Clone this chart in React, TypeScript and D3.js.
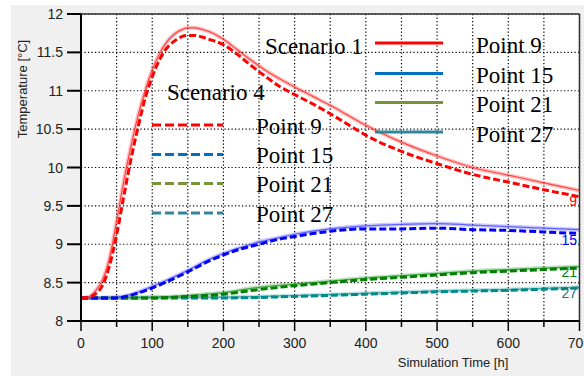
import React from "react";
import * as d3 from "d3";

const xTicks = [0, 100, 200, 300, 400, 500, 600, 700];
const yTicks = [8, 8.5, 9, 9.5, 10, 10.5, 11, 11.5, 12];

const p9T = [0, 10, 20, 30, 40, 50, 60, 70, 80, 90, 100, 110, 120, 130, 140, 150, 160, 170, 180, 200, 220, 240, 260, 280, 300, 325, 350, 375, 400, 450, 500, 550, 600, 650, 700];
const p9S1V = [8.3, 8.31, 8.39, 8.53, 8.82, 9.3, 9.82, 10.27, 10.67, 11.0, 11.27, 11.48, 11.63, 11.73, 11.79, 11.82, 11.82, 11.8, 11.77, 11.67, 11.53, 11.39, 11.26, 11.15, 11.05, 10.93, 10.81, 10.68, 10.55, 10.33, 10.15, 10.0, 9.9, 9.8, 9.7];
const p9S4V = [8.3, 8.31, 8.35, 8.46, 8.72, 9.12, 9.62, 10.1, 10.52, 10.9, 11.18, 11.4, 11.55, 11.64, 11.7, 11.72, 11.72, 11.7, 11.67, 11.6, 11.47, 11.32, 11.18, 11.05, 10.95, 10.83, 10.7, 10.56, 10.42, 10.21, 10.05, 9.91, 9.81, 9.71, 9.62];

const p15T = [0, 25, 50, 75, 100, 125, 150, 175, 200, 225, 250, 275, 300, 350, 400, 450, 500, 550, 600, 650, 700];
const p15S1V = [8.3, 8.3, 8.31, 8.36, 8.45, 8.55, 8.66, 8.78, 8.88, 8.96, 9.03, 9.08, 9.13, 9.2, 9.24, 9.26, 9.27, 9.25, 9.23, 9.21, 9.19];
const p15S4V = [8.3, 8.3, 8.3, 8.35, 8.43, 8.53, 8.64, 8.76, 8.86, 8.94, 9.0, 9.06, 9.1, 9.17, 9.2, 9.2, 9.21, 9.19, 9.18, 9.16, 9.14];

const p21T = [0, 100, 150, 200, 250, 300, 350, 400, 450, 500, 550, 600, 650, 700];
const p21S1V = [8.3, 8.31, 8.33, 8.37, 8.44, 8.48, 8.52, 8.56, 8.59, 8.62, 8.65, 8.67, 8.69, 8.71];
const p21S4V = [8.3, 8.3, 8.32, 8.35, 8.41, 8.46, 8.5, 8.54, 8.57, 8.6, 8.63, 8.65, 8.67, 8.69];

const p27T = [0, 200, 300, 400, 500, 600, 700];
const p27S1V = [8.3, 8.31, 8.33, 8.36, 8.39, 8.41, 8.44];
const p27S4V = [8.3, 8.3, 8.32, 8.35, 8.38, 8.4, 8.43];

const legendNames = ["Point 9", "Point 15", "Point 21", "Point 27"];
const legendColors = ["#ff0000", "#0070c0", "#77933c", "#31859c"];
const endLabels = ["9", "15", "21", "27"];

export default function App() {
  const W = 584, H = 376;
  const x = d3.scaleLinear().domain([0, 700]).range([81, 579.5]);
  const y = d3.scaleLinear().domain([8, 12]).range([321, 14]);
  const line = (t: number[], v: number[]) =>
    d3.line<number>().x((_, i) => x(t[i])).y((d) => y(d)).curve(d3.curveMonotoneX)(v) || "";

  const series = [
    { t: p27T, s1: p27S1V, s4: p27S4V, c1: "#20a0a0", c4: "#008b8b" },
    { t: p21T, s1: p21S1V, s4: p21S4V, c1: "#30a030", c4: "#008000" },
    { t: p15T, s1: p15S1V, s4: p15S4V, c1: "#5050ff", c4: "#0000ff" },
    { t: p9T, s1: p9S1V, s4: p9S4V, c1: "#ff3030", c4: "#ff0000" },
  ];
  const endColors = ["#ff0000", "#0000ff", "#008000", "#008080"];
  const endVals = [p9S4V[p9S4V.length - 1], p15S4V[p15S4V.length - 1], p21S4V[p21S4V.length - 1], p27S4V[p27S4V.length - 1]];
  const endOffsets = [9, 11, 9, 10];

  const gridX = d3.range(0, 701, 50);
  const font = "'Liberation Sans', Arial, sans-serif";
  const serif = "'Liberation Serif', 'Times New Roman', serif";

  return (
    <svg width={W} height={H} style={{ position: "absolute", left: 0, top: 0 }}>
      <rect x={0} y={0} width={W} height={H} fill="#ffffff" />
      <rect x={11} y={5} width={W - 11} height={H - 5} fill="#f0f0f0" />
      <rect x={x(0)} y={y(12)} width={x(700) - x(0)} height={y(8) - y(12)} fill="#ffffff" />
      {gridX.map((g) => (
        <line key={"gx" + g} x1={x(g)} x2={x(g)} y1={y(12)} y2={y(8)} stroke="#000" strokeWidth={1.2} strokeDasharray="1.2,2.3" />
      ))}
      {yTicks.map((g) => (
        <line key={"gy" + g} x1={x(0)} x2={x(700)} y1={y(g)} y2={y(g)} stroke="#000" strokeWidth={1.2} strokeDasharray="1.2,2.3" />
      ))}
      {series.map((s, i) => (
        <g key={"s" + i}>
          <path d={line(s.t, s.s1)} fill="none" stroke={s.c1} strokeOpacity={0.3} strokeWidth={4} />
          <path d={line(s.t, s.s1)} fill="none" stroke={s.c1} strokeOpacity={0.85} strokeWidth={1.2} />
          <path d={line(s.t, s.s4)} fill="none" stroke={s.c4} strokeWidth={3} strokeDasharray="7,3" />
        </g>
      ))}
      {endLabels.map((l, i) => (
        <text key={"el" + i} x={577} y={y(endVals[i]) + endOffsets[i]} textAnchor="end" fontFamily={font} fontSize={14} fill={endColors[i]}>
          {l}
        </text>
      ))}
      <line x1={x(0)} x2={x(700)} y1={y(12)} y2={y(12)} stroke="#333" strokeWidth={1.5} />
      <line x1={x(700)} x2={x(700)} y1={y(12)} y2={y(8)} stroke="#333" strokeWidth={1.5} />
      <line x1={x(0)} x2={x(0)} y1={y(12)} y2={y(8)} stroke="#000" strokeWidth={2} />
      <line x1={x(0)} x2={x(700)} y1={y(8)} y2={y(8)} stroke="#000" strokeWidth={2} />
      {yTicks.map((g) => (
        <g key={"yt" + g}>
          <line x1={67} x2={x(0)} y1={y(g)} y2={y(g)} stroke="#000" strokeWidth={2} />
          <text x={63} y={y(g) + 5} textAnchor="end" fontFamily={font} fontSize={14} fill="#222">
            {g}
          </text>
        </g>
      ))}
      {gridX.map((g) => (
        <line key={"xt" + g} x1={x(g)} x2={x(g)} y1={y(8)} y2={y(8) + (g % 100 === 0 ? 10 : 6)} stroke="#000" strokeWidth={1.5} />
      ))}
      {xTicks.map((g) => (
        <text key={"xl" + g} x={x(g)} y={348} textAnchor="middle" fontFamily={font} fontSize={14} fill="#222">
          {g}
        </text>
      ))}
      <text x={453} y={367} textAnchor="middle" fontFamily={font} fontSize={13} fill="#222">
        Simulation Time [h]
      </text>
      <text transform="translate(27,89) rotate(-90)" textAnchor="middle" fontFamily={font} fontSize={13} fill="#222">
        Temperature [°C]
      </text>
      <text x={265} y={54} fontFamily={serif} fontSize={23} fill="#000">
        Scenario 1
      </text>
      {legendNames.map((n, i) => {
        const ly = [43, 73.5, 102.5, 132][i];
        return (
          <g key={"l1" + i}>
            <line x1={375} x2={443} y1={ly} y2={ly} stroke={legendColors[i]} strokeWidth={3} />
            <text x={476} y={ly + 9.5} fontFamily={serif} fontSize={23} fill="#000">
              {n}
            </text>
          </g>
        );
      })}
      <text x={167} y={100} fontFamily={serif} fontSize={23} fill="#000">
        Scenario 4
      </text>
      {legendNames.map((n, i) => {
        const ly = [125, 154.5, 183.5, 213][i];
        return (
          <g key={"l4" + i}>
            <line x1={152} x2={223} y1={ly} y2={ly} stroke={legendColors[i]} strokeWidth={3} strokeDasharray="9,4" />
            <text x={256} y={ly + 8.5} fontFamily={serif} fontSize={23} fill="#000">
              {n}
            </text>
          </g>
        );
      })}
    </svg>
  );
}
